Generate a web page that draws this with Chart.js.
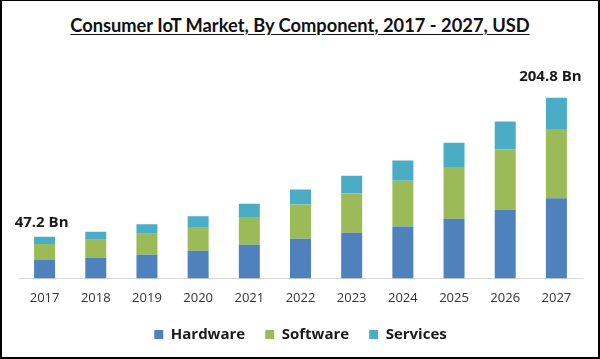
<!DOCTYPE html>
<html>
<head>
<meta charset="utf-8">
<script src="https://cdn.jsdelivr.net/npm/chart.js@4.4.1/dist/chart.umd.min.js"></script>
<style>
  html, body { margin: 0; padding: 0; background: #fff; }
  #frame { position: relative; width: 600px; height: 359px; box-sizing: border-box;
           border-left: 2px solid #000; border-right: 2px solid #000; border-bottom: 2px solid #000; border-top: 1px solid #000; overflow: hidden; }
  #title { position: absolute; left: 0; right: 0; top: 13px; text-align: center;
           font-family: Lato, "Liberation Sans", sans-serif; font-weight: bold; font-size: 18.3px;
           color: #111; text-decoration: underline; text-underline-offset: 2px; }
  #wrap { position: absolute; left: -2px; top: -1px; width: 600px; height: 359px; }
</style>
</head>
<body>
<div id="frame">
  <div id="title">Consumer IoT Market, By Component, 2017 - 2027, USD</div>
  <div id="wrap"><canvas id="c" width="600" height="359"></canvas></div>
</div>
<script>
const years = ["2017","2018","2019","2020","2021","2022","2023","2024","2025","2026","2027"];
const hardware = [21.0, 23.5, 26.9, 31.4, 38.2, 45.1, 51.9, 59.0, 67.8, 78.0, 90.8];
const software = [18.0, 20.4, 23.8, 26.9, 31.4, 38.6, 44.3, 51.9, 58.6, 68.1, 78.8];
const services = [8.2, 9.1, 10.6, 12.1, 15.1, 17.0, 20.1, 22.7, 27.6, 31.8, 35.2];
const endLabels = ["47.2 Bn", "204.8 Bn"];

const labelPlugin = {
  id: 'endLabels',
  afterDatasetsDraw(chart) {
    const ctx = chart.ctx;
    const meta = chart.getDatasetMeta(2);
    const first = meta.data[0];
    const last = meta.data[meta.data.length - 1];
    ctx.save();
    ctx.font = 'bold 15px "Open Sans", sans-serif';
    ctx.fillStyle = '#1a1a1a';
    ctx.textAlign = 'center';
    ctx.textBaseline = 'middle';
    ctx.fillText(endLabels[0], first.x - 3, first.y - 14);
    ctx.fillText(endLabels[1], last.x - 6, last.y - 21);
    ctx.restore();
  }
};

const legendShift = {
  id: 'legendShift',
  afterLayout(chart) {
    const l = chart.legend;
    if (l) { l.top -= 11; l.bottom -= 11; }
  }
};

new Chart(document.getElementById('c'), {
  type: 'bar',
  data: {
    labels: years,
    datasets: [
      { label: 'Hardware', data: hardware, backgroundColor: '#4F81BD' },
      { label: 'Software', data: software, backgroundColor: '#9BBB59' },
      { label: 'Services', data: services, backgroundColor: '#4BACC6' }
    ]
  },
  options: {
    responsive: false,
    animation: false,
    devicePixelRatio: 1,
    layout: { padding: { top: 58, left: 19, right: 18, bottom: -4 } },
    datasets: { bar: { barPercentage: 0.41, categoryPercentage: 1.0 } },
    scales: {
      x: {
        stacked: true,
        grid: { display: false, drawTicks: false },
        border: { display: true, color: '#d9d9d9', width: 1 },
        ticks: { color: '#333', font: { family: '"Open Sans", sans-serif', size: 13 }, padding: 12, maxRotation: 0 }
      },
      y: {
        stacked: true, display: false, min: 0, max: 250
      }
    },
    plugins: {
      legend: {
        position: 'bottom',
        labels: {
          boxWidth: 9, boxHeight: 9, padding: 20,
          color: '#1a1a1a',
          font: { family: '"Open Sans", sans-serif', size: 15, weight: 'bold' }
        }
      },
      tooltip: { enabled: false }
    }
  },
  plugins: [labelPlugin, legendShift]
});
</script>
</body>
</html>
